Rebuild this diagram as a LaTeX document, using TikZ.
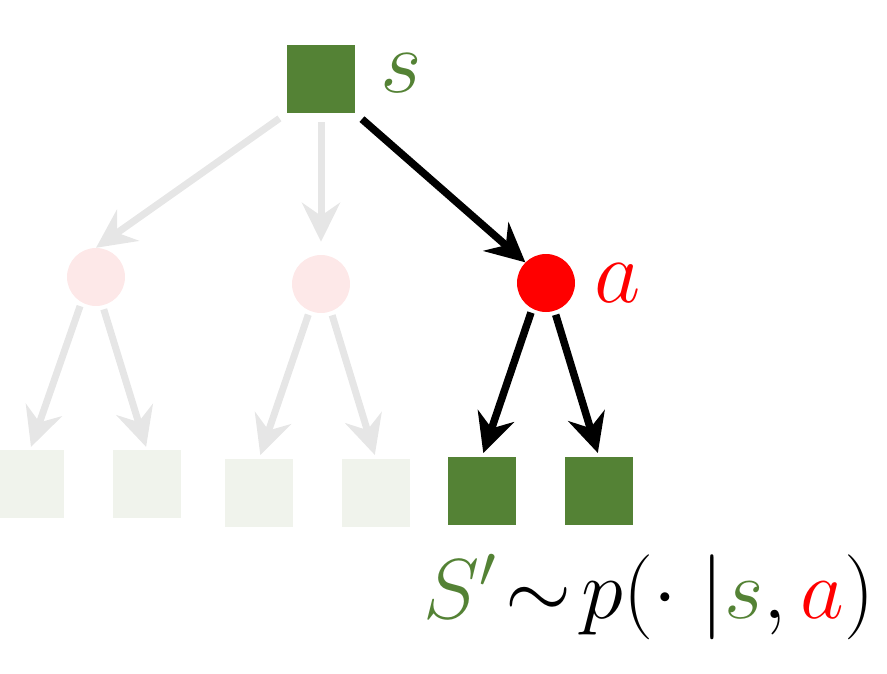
\documentclass[tikz,border=0pt]{standalone}
\usepackage{fix-cm}
\usepackage{amsmath}
\usetikzlibrary{arrows.meta}

\definecolor{stgreen}{HTML}{548235}
\definecolor{palegreen}{HTML}{F0F3EC}
\definecolor{palered}{HTML}{FDE8E8}
\definecolor{fadegrey}{HTML}{E6E6E6}
\definecolor{actred}{HTML}{FF0000}

\tikzset{
  statebox/.style={rectangle, draw=none, fill=stgreen, minimum size=68pt, inner sep=0pt},
  fadestate/.style={statebox, fill=palegreen},
  actdot/.style={circle, draw=none, fill=actred, minimum size=58pt, inner sep=0pt},
  fadeact/.style={actdot, fill=palered},
  edge/.style={line width=7.5pt, -{Stealth[length=39pt, width=38pt, inset=13pt]}},
  fadeedge/.style={edge, line width=7pt, draw=fadegrey},
  lbl/.style={inner sep=0pt, font=\fontsize{90}{100}\selectfont},
}

\begin{document}
\begin{tikzpicture}[x=1pt, y=-1pt]
\useasboundingbox (0,0) rectangle (887,674);

% root state
\node[statebox] (s) at (321,79) {};
\node[lbl, text=stgreen] (slbl) at (401,73) {$s$};

% actions
\node[fadeact] (a1) at (96,277) {};
\node[fadeact] (a2) at (321,284) {};
\node[actdot] (a3) at (546,283) {};
\node[lbl, text=actred] (albl) at (618,283) {$a$};

% successor states
\node[fadestate] (n1) at (30,484) {};
\node[fadestate] (n2) at (147,484) {};
\node[fadestate] (n3) at (259,493) {};
\node[fadestate] (n4) at (376,493) {};
\node[statebox] (n5) at (482,491) {};
\node[statebox] (n6) at (599,491) {};

% edges from the root
\draw[fadeedge, shorten <=9pt] (s.south west) -- (a1.north);
\draw[fadeedge, shorten <=9pt, shorten >=13pt] (s.south) -- (a2.north);
\draw[edge, shorten <=9pt] (s.south east) -- (a3.north west);

% edges to successor states
\draw[fadeedge, shorten <=4pt, shorten >=3pt] (a1.240) -- (n1.north);
\draw[fadeedge, shorten <=4pt, shorten >=3pt] (a1.283) -- (n2.north);
\draw[fadeedge, shorten <=4pt, shorten >=4pt] (a2.247) -- (n3.north);
\draw[fadeedge, shorten <=4pt, shorten >=4pt] (a2.290) -- (n4.north);
\draw[edge, shorten <=4pt, shorten >=4pt] (a3.242) -- (n5.north);
\draw[edge, shorten <=4pt, shorten >=4pt] (a3.287) -- (n6.north);

% transition distribution
\node[inner sep=0pt, anchor=base, font=\fontsize{85}{100}\selectfont] (dist) at (649,618)
  {$\textcolor{stgreen}{S'}\!\sim\! p(\cdot\;|\textcolor{stgreen}{s},\textcolor{actred}{a})$};
\end{tikzpicture}
\end{document}
